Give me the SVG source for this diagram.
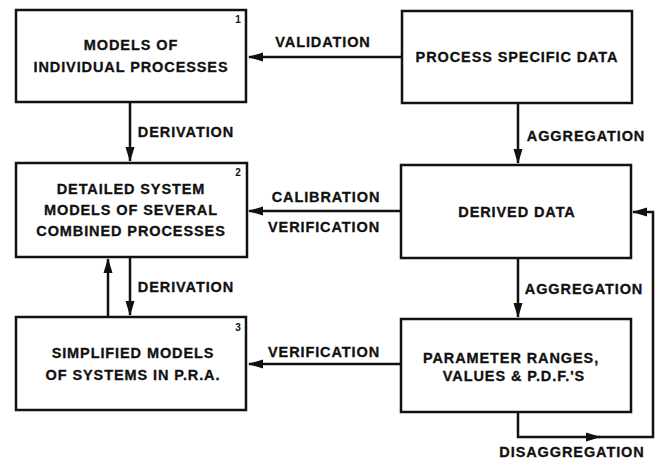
<svg xmlns="http://www.w3.org/2000/svg" width="661" height="460" viewBox="0 0 661 460">
<style>
.box{fill:#fff;stroke:#111;stroke-width:2.5}
.t{font-family:"Liberation Sans",Arial,sans-serif;font-weight:bold;font-size:14.5px;letter-spacing:0.9px;fill:#111;stroke:#111;stroke-width:0.3;text-anchor:middle}
.n{font-family:"Liberation Sans",Arial,sans-serif;font-weight:bold;font-size:10px;fill:#111;text-anchor:middle}
.c{fill:none;stroke:#111;stroke-width:2.5}
</style>
<defs>
<marker id="ah" markerUnits="userSpaceOnUse" markerWidth="15" markerHeight="10" refX="14" refY="5" orient="auto">
<path d="M0,0.5 L15,5 L0,9.5 Z" fill="#111"/>
</marker>
</defs>
<rect width="661" height="460" fill="#fff"/>
<g id="connectors">
<path class="c" d="M402,57 H249" marker-end="url(#ah)"/>
<path class="c" d="M130,102 V161" marker-end="url(#ah)"/>
<path class="c" d="M518,103 V163" marker-end="url(#ah)"/>
<path class="c" d="M401,211 H249" marker-end="url(#ah)"/>
<path class="c" d="M130,257 V315" marker-end="url(#ah)"/>
<path class="c" d="M108,317 V259" marker-end="url(#ah)"/>
<path class="c" d="M518,258 V317" marker-end="url(#ah)"/>
<path class="c" d="M401,364 H249" marker-end="url(#ah)"/>
<path class="c" d="M518,412 V437 H600" marker-end="url(#ah)"/>
<path class="c" d="M598,437 H653 V212 H633" marker-end="url(#ah)"/>
<text class="t" x="323" y="47">VALIDATION</text>
<text class="t" x="186" y="137">DERIVATION</text>
<text class="t" x="586" y="141">AGGREGATION</text>
<text class="t" x="326" y="202">CALIBRATION</text>
<text class="t" x="324" y="232">VERIFICATION</text>
<text class="t" x="186" y="292">DERIVATION</text>
<text class="t" x="584" y="294">AGGREGATION</text>
<text class="t" x="324" y="357">VERIFICATION</text>
<text class="t" x="572" y="457">DISAGGREGATION</text>
</g>
<g id="node1">
<rect class="box" x="16" y="10" width="230" height="92"/>
<text class="n" x="238" y="23">1</text>
<text class="t" x="131" y="50">MODELS OF</text>
<text class="t" x="131" y="72">INDIVIDUAL PROCESSES</text>
</g>
<g id="node-psd">
<rect class="box" x="402" y="11" width="230" height="92"/>
<text class="t" x="517" y="62">PROCESS SPECIFIC DATA</text>
</g>
<g id="node2">
<rect class="box" x="16" y="163" width="231" height="94"/>
<text class="n" x="238" y="176">2</text>
<text class="t" x="131" y="194">DETAILED SYSTEM</text>
<text class="t" x="131" y="215">MODELS OF SEVERAL</text>
<text class="t" x="131" y="236">COMBINED PROCESSES</text>
</g>
<g id="node-dd">
<rect class="box" x="401" y="165" width="230" height="93"/>
<text class="t" x="517" y="217">DERIVED DATA</text>
</g>
<g id="node3">
<rect class="box" x="16" y="317" width="230" height="93"/>
<text class="n" x="238" y="331">3</text>
<text class="t" x="133" y="358">SIMPLIFIED MODELS</text>
<text class="t" x="133" y="380">OF SYSTEMS IN P.R.A.</text>
</g>
<g id="node-prv">
<rect class="box" x="401" y="319" width="230" height="93"/>
<text class="t" x="511" y="363">PARAMETER RANGES,</text>
<text class="t" x="514" y="381">VALUES &amp; P.D.F.'S</text>
</g>
</svg>
